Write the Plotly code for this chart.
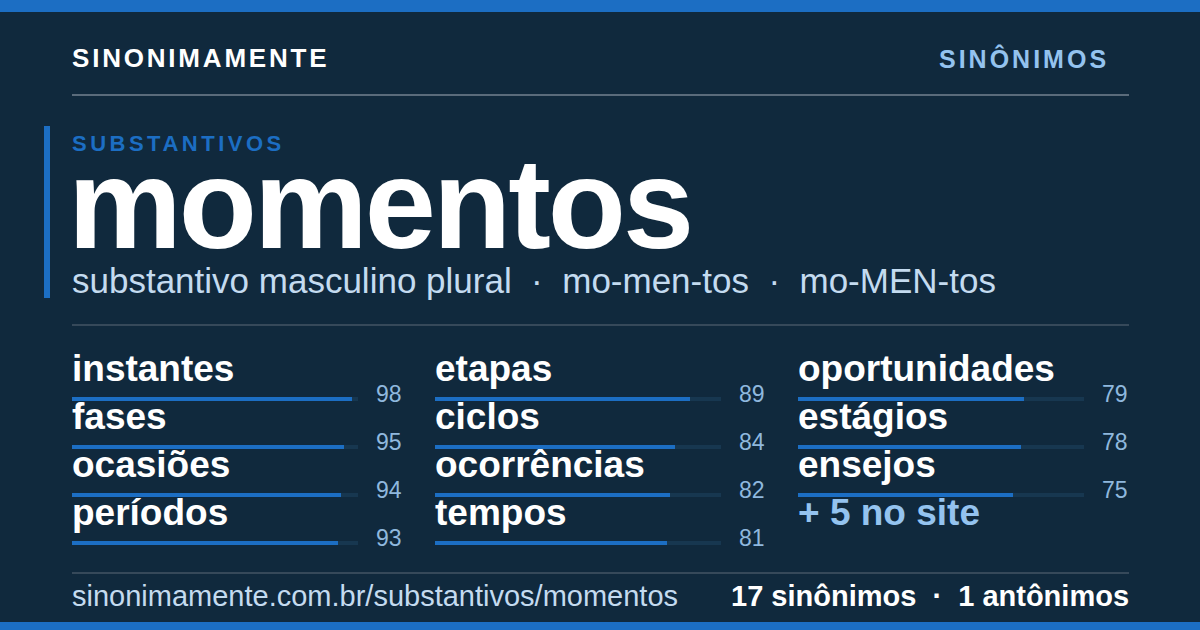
import plotly.graph_objects as go

# ---------------- data ----------------
brand = "SINONIMAMENTE"
section = "SINÔNIMOS"
category = "SUBSTANTIVOS"
headword = "momentos"
subtitle_parts = ["substantivo masculino plural", "mo-men-tos", "mo-MEN-tos"]
words = ["instantes", "fases", "ocasiões", "períodos",
         "etapas", "ciclos", "ocorrências", "tempos",
         "oportunidades", "estágios", "ensejos"]
scores = [98, 95, 94, 93,
          89, 84, 82, 81,
          79, 78, 75]
more_label = "+ 5 no site"
footer_url = "sinonimamente.com.br/substantivos/momentos"
n_synonyms = 17
n_antonyms = 1

# ---------------- style ----------------
W, H = 1200, 630
BG = "#10293d"
BLUE = "#1c6ec3"
TRACK = "#173750"
WHITE = "#ffffff"
LIGHT = "#c4dbf0"
SOFT = "#94c3ef"
SCORE_C = "#8fb8de"
FONT = "Liberation Sans, Arial, sans-serif"
ROWS = 4
BAR_PX = 4
ROW_PX = 48


def X(px):
    return px / W


def Y(py):
    return 1 - py / H


fig = go.Figure()

col_left = [72, 435, 798]
track_w = 286
axes = ["x", "x2", "x3"]

for i, (w, s) in enumerate(zip(words, scores)):
    c, r = divmod(i, ROWS)
    ax = axes[c]
    fig.add_trace(go.Bar(x=[100], y=[r], orientation="h", xaxis=ax, yaxis="y",
                         marker=dict(color=TRACK, line=dict(width=0)),
                         width=BAR_PX / ROW_PX, hoverinfo="skip", showlegend=False))
    fig.add_trace(go.Bar(x=[s], y=[r], orientation="h", xaxis=ax, yaxis="y",
                         marker=dict(color=BLUE, line=dict(width=0)),
                         width=BAR_PX / ROW_PX, hoverinfo="skip", showlegend=False))

ann = []
for i, (w, s) in enumerate(zip(words, scores)):
    c, r = divmod(i, ROWS)
    ax = axes[c]
    ann.append(dict(xref=ax, yref="y", x=0, y=r, text=f"<b>{w}</b>", showarrow=False,
                    xanchor="left", yanchor="middle", yshift=31, xshift=-2,
                    font=dict(family=FONT, size=37, color=WHITE)))
    ann.append(dict(xref=ax, yref="y", x=100, y=r, text=str(s), showarrow=False,
                    xanchor="right", yanchor="middle", yshift=5, xshift=46,
                    font=dict(family=FONT, size=23, color=SCORE_C)))

# "+ 5 no site" in next free slot
c, r = divmod(len(words), ROWS)
ann.append(dict(xref=axes[c], yref="y", x=0, y=r, text=f"<b>{more_label}</b>", showarrow=False,
                xanchor="left", yanchor="middle", yshift=31, xshift=-2,
                font=dict(family=FONT, size=37, color=SOFT)))

# header / titles
ann += [
    dict(xref="paper", yref="paper", x=X(70), y=Y(58), xanchor="left", yanchor="middle",
         text=f'<b><span style="letter-spacing:2.8px">{brand}</span></b>', showarrow=False,
         font=dict(family=FONT, size=26, color=WHITE)),
    dict(xref="paper", yref="paper", x=X(1111), y=Y(58), xanchor="right", yanchor="middle",
         text=f'<b><span style="letter-spacing:3px">{section}</span></b>', showarrow=False,
         font=dict(family=FONT, size=25, color=SOFT)),
    dict(xref="paper", yref="paper", x=X(70), y=Y(144), xanchor="left", yanchor="middle",
         text=f'<b><span style="letter-spacing:3.5px">{category}</span></b>', showarrow=False,
         font=dict(family=FONT, size=22, color=BLUE)),
    dict(xref="paper", yref="paper", x=X(66), y=Y(204), xanchor="left", yanchor="middle",
         text=f'<b><span style="letter-spacing:-3px">{headword}</span></b>', showarrow=False,
         font=dict(family=FONT, size=128, color=WHITE)),
    dict(xref="paper", yref="paper", x=X(70), y=Y(280), xanchor="left", yanchor="middle",
         text=("\u00a0\u00a0·\u00a0\u00a0").join(subtitle_parts), showarrow=False,
         font=dict(family=FONT, size=35, color=LIGHT)),
    dict(xref="paper", yref="paper", x=X(70), y=Y(596), xanchor="left", yanchor="middle",
         text=footer_url, showarrow=False,
         font=dict(family=FONT, size=29, color=LIGHT)),
    dict(xref="paper", yref="paper", x=X(1131), y=Y(596), xanchor="right", yanchor="middle",
         text=f"<b>{n_synonyms} sinônimos\u00a0\u00a0·\u00a0\u00a0{n_antonyms} antônimos</b>",
         showarrow=False, font=dict(family=FONT, size=29, color=WHITE)),
]

shapes = [
    dict(type="rect", xref="paper", yref="paper", x0=0, x1=1, y0=Y(12), y1=1,
         fillcolor=BLUE, line=dict(width=0), layer="below"),
    dict(type="rect", xref="paper", yref="paper", x0=0, x1=1, y0=0, y1=Y(622),
         fillcolor=BLUE, line=dict(width=0), layer="below"),
    dict(type="rect", xref="paper", yref="paper", x0=X(44), x1=X(50), y0=Y(298), y1=Y(126),
         fillcolor=BLUE, line=dict(width=0), layer="below"),
    dict(type="line", xref="paper", yref="paper", x0=X(72), x1=X(1129), y0=Y(95), y1=Y(95),
         line=dict(color="#5a6b7b", width=2)),
    dict(type="line", xref="paper", yref="paper", x0=X(72), x1=X(1129), y0=Y(325), y1=Y(325),
         line=dict(color="#36495a", width=2)),
    dict(type="line", xref="paper", yref="paper", x0=X(72), x1=X(1129), y0=Y(573), y1=Y(573),
         line=dict(color="#36495a", width=2)),
]

axis_common = dict(range=[0, 100], showgrid=False, zeroline=False, showticklabels=False,
                   ticks="", showline=False, fixedrange=True)
y_top = 375
y_bot = y_top + ROWS * ROW_PX

fig.update_layout(
    width=W, height=H, autosize=False,
    margin=dict(l=0, r=0, t=0, b=0, pad=0),
    paper_bgcolor=BG, plot_bgcolor="rgba(0,0,0,0)",
    barmode="overlay", bargap=0,
    showlegend=False,
    xaxis=dict(domain=[X(col_left[0]), X(col_left[0] + track_w)], anchor="y", **axis_common),
    xaxis2=dict(domain=[X(col_left[1]), X(col_left[1] + track_w)], anchor="y", **axis_common),
    xaxis3=dict(domain=[X(col_left[2]), X(col_left[2] + track_w)], anchor="y", **axis_common),
    yaxis=dict(domain=[Y(y_bot), Y(y_top)], range=[ROWS - 0.5, -0.5], showgrid=False,
               zeroline=False, showticklabels=False, ticks="", showline=False, fixedrange=True),
    annotations=ann,
    shapes=shapes,
)

fig.write_html("out.html", config={"displayModeBar": False, "staticPlot": True},
               post_script="document.body.style.margin='0';document.body.style.overflow='hidden';")
